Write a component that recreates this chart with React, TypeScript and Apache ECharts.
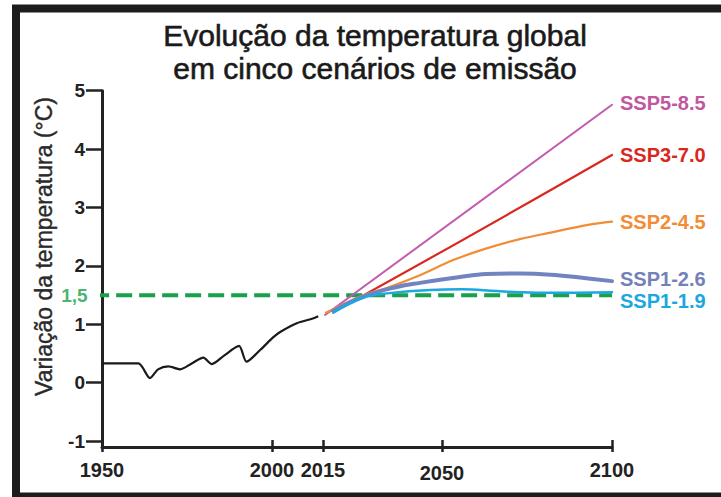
import React, { useEffect, useRef } from "react";
import * as echarts from "echarts";

// ---- data ----
const histYears = [1950, 1960.7, 1964.1, 1966.5, 1969.5, 1973, 1976.4, 1979.8, 1982.3, 1986, 1990.3, 1992.5, 1996.5, 2000.4, 2002.4, 2007.3, 2012, 2013.6];
const histTemp = [0.33, 0.33, 0.08, 0.23, 0.28, 0.23, 0.33, 0.43, 0.32, 0.47, 0.63, 0.36, 0.56, 0.78, 0.87, 1.02, 1.1, 1.14];

const ssp585Years = [2015.6, 2100];
const ssp585Temp = [1.16, 4.76];

const ssp370Years = [2016, 2027, 2100];
const ssp370Temp = [1.2, 1.5, 3.9];

const ssp245Years = [2016, 2027, 2033.7, 2043.5, 2053.3, 2063.1, 2072.9, 2082.7, 2092.6, 2100];
const ssp245Temp = [1.2, 1.5, 1.62, 1.84, 2.1, 2.3, 2.46, 2.58, 2.7, 2.76];

const ssp126Years = [2018, 2027, 2036.7, 2043.5, 2055.3, 2063, 2073, 2082, 2090.6, 2100];
const ssp126Temp = [1.23, 1.48, 1.64, 1.71, 1.81, 1.86, 1.87, 1.85, 1.8, 1.74];

const ssp119Years = [2018, 2027, 2033.8, 2046.5, 2056, 2066, 2073, 2081, 2100];
const ssp119Temp = [1.2, 1.46, 1.53, 1.59, 1.6, 1.57, 1.55, 1.54, 1.55];

const targetYears = [1947.4, 2100];
const targetTemp = [1.5, 1.5];
const targetLabel = "1,5";

const xTicks = [1950, 2000, 2015, 2050, 2100];
const yTicks = [-1, 0, 1, 2, 3, 4, 5];

const FONT = "'Liberation Sans', Arial, Helvetica, sans-serif";
const GREEN = "#19a04b";

const pairs = (xs: number[], ys: number[]) => xs.map((x, i) => [x, ys[i]]);

export default function App() {
  const ref = useRef<HTMLDivElement>(null);
  useEffect(() => {
    if (!ref.current) return;
    const chart = echarts.init(ref.current, null, { renderer: "svg" });

    const scen = (name: string, xs: number[], ys: number[], color: string, width: number, dy: number, labelColor?: string) => ({
      type: "line",
      name,
      data: pairs(xs, ys),
      smooth: 0.4,
      showSymbol: false,
      symbol: "none",
      lineStyle: { color, width, cap: "round" },
      endLabel: {
        show: true,
        formatter: name,
        color: labelColor || color,
        fontSize: 20,
        lineHeight: 18,
        fontWeight: "bold",
        fontFamily: FONT,
        distance: 8,
        offset: [0, dy],
      },
      z: 3,
    });

    chart.setOption({
      animation: false,
      backgroundColor: "#ffffff",
      title: {
        text: "Evolução da temperatura global\nem cinco cenários de emissão",
        left: 375,
        top: 19,
        padding: 0,
        textAlign: "center",
        textStyle: {
          fontSize: 30,
          fontWeight: "normal",
          color: "#1a1a1a",
          fontFamily: FONT,
          lineHeight: 33,
          textBorderColor: "#1a1a1a",
          textBorderWidth: 0.6,
        },
      },
      grid: { left: 102, right: 109, top: 90.7, bottom: 50, containLabel: false, outerBoundsMode: "none" },
      xAxis: [
        {
          type: "value",
          min: 1950,
          max: 2100,
          position: "bottom",
          splitLine: { show: false },
          axisLine: { show: true, onZero: false, lineStyle: { color: "#222", width: 3 } },
          axisTick: { show: true, customValues: xTicks, length: 5, lineStyle: { color: "#222", width: 2.5 } },
          axisLabel: {
            customValues: xTicks,
            margin: 13,
            color: "#222",
            fontSize: 20,
            fontWeight: "bold",
            fontFamily: FONT,
            formatter: (v: number) => (v === 2050 ? "{d|" + v + "}" : "{n|" + v + "}"),
            rich: {
              n: { fontSize: 20, fontWeight: "bold", fontFamily: FONT, color: "#222" },
              d: { fontSize: 20, fontWeight: "bold", fontFamily: FONT, color: "#222", padding: [3, 0, 0, 0] },
            },
          },
        },
        {
          type: "value",
          min: 1950,
          max: 2100,
          position: "bottom",
          offset: 0,
          splitLine: { show: false },
          axisLine: { show: false, onZero: false },
          axisTick: { show: true, inside: true, customValues: xTicks, length: 7, lineStyle: { color: "#222", width: 2.5 } },
          axisLabel: { show: false },
        },
      ],
      yAxis: {
        type: "value",
        min: -1.1,
        max: 5,
        splitLine: { show: false },
        axisLine: { show: true, onZero: false, lineStyle: { color: "#222", width: 3 } },
        axisTick: { show: true, customValues: yTicks, length: 16, lineStyle: { color: "#222", width: 2.5 } },
        axisLabel: {
          customValues: yTicks,
          margin: 17,
          color: "#222",
          fontSize: 19,
          fontWeight: "bold",
          fontFamily: FONT,
        },
      },
      graphic: [
        {
          type: "rect",
          shape: { x: 16, y: 8.5, width: 720, height: 488 },
          style: { fill: "none", stroke: "#1c1c1c", lineWidth: 8 },
          z: 100,
          silent: true,
        },
        {
          type: "text",
          x: 44,
          y: 246.5,
          rotation: Math.PI / 2,
          style: {
            text: "Variação da temperatura (°C)",
            fontSize: 23,
            fontFamily: FONT,
            fill: "#2a2a2a",
            stroke: "#2a2a2a",
            lineWidth: 0.4,
            textAlign: "center",
            textVerticalAlign: "middle",
          },
        },
      ],
      series: [
        {
          type: "line",
          name: "meta",
          data: pairs(targetYears, targetTemp),
          clip: false,
          showSymbol: false,
          symbol: "none",
          lineStyle: { color: GREEN, width: 4, type: [16, 7] },
          z: 2,
        },
        {
          type: "scatter",
          name: "meta-label",
          data: [[targetYears[0], targetTemp[0]]],
          clip: false,
          symbol: "circle",
          symbolSize: 1,
          itemStyle: { color: "rgba(0,0,0,0)" },
          label: {
            show: true,
            position: "left",
            distance: 5,
            formatter: targetLabel,
            color: GREEN,
            fontSize: 19,
            fontWeight: "bold",
            fontFamily: FONT,
          },
          z: 2,
        },
        {
          type: "line",
          name: "Histórico",
          data: pairs(histYears, histTemp),
          smooth: 0.25,
          showSymbol: false,
          symbol: "none",
          lineStyle: { color: "#1a1a1a", width: 2.2 },
          z: 3,
        },
        scen("SSP5-8.5", ssp585Years, ssp585Temp, "#c35bae", 2, -2, "#c0579f"),
        scen("SSP3-7.0", ssp370Years, ssp370Temp, "#d8281f", 2.2, 0),
        scen("SSP2-4.5", ssp245Years, ssp245Temp, "#f28c35", 2.2, 0),
        scen("SSP1-2.6", ssp126Years, ssp126Temp, "#6f84c1", 4, -2, "#7282b9"),
        scen("SSP1-1.9", ssp119Years, ssp119Temp, "#1ba7df", 2.5, 9),
      ],
    });
    return () => chart.dispose();
  }, []);
  return <div ref={ref} style={{ position: "fixed", left: 0, top: 0, width: 721, height: 497 }} />;
}
